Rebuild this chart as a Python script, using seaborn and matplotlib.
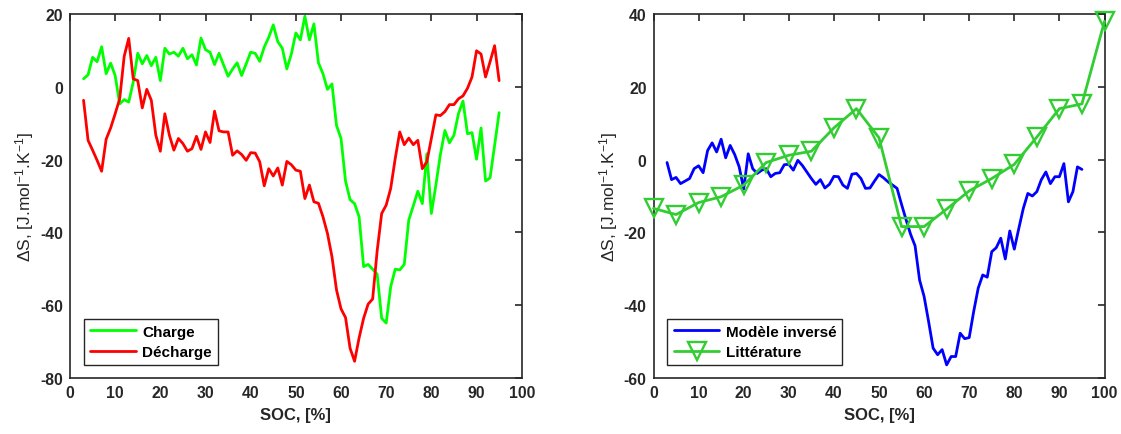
import numpy as np
import pandas as pd
import matplotlib
matplotlib.use("Agg")
import matplotlib.pyplot as plt
import seaborn as sns
from matplotlib.lines import Line2D

# ---------------- data ----------------
soc = list(range(3, 96))

charge = [2.2, 3.3, 8.1, 6.9, 11.0, 3.6, 6.5, 3.1, -4.7, -3.5,
          -4.2, 1.3, 9.2, 6.3, 8.6, 5.8, 8.1, 1.7, 10.6, 9.0,
          9.5, 8.4, 10.6, 7.7, 8.8, 6.0, 13.4, 10.2, 9.5, 6.1,
          9.2, 6.0, 2.9, 4.9, 6.6, 3.1, 6.3, 9.5, 9.2, 7.0,
          10.9, 13.6, 17.0, 12.4, 10.6, 4.9, 9.0, 14.8, 12.9, 19.4,
          12.9, 17.3, 6.6, 3.6, -0.7, 0.8, -10.6, -14.2, -25.9, -31.0,
          -32.1, -35.7, -49.4, -48.8, -50.1, -51.5, -63.6, -64.9, -54.9, -50.1,
          -50.3, -48.8, -36.6, -32.7, -28.7, -32.1, -18.4, -34.8, -27.0, -18.6,
          -12.0, -15.4, -13.3, -7.4, -3.9, -12.9, -12.6, -19.9, -11.3, -25.9,
          -25.0, -16.1, -7.1]

decharge = [-3.7, -14.7, -17.4, -20.2, -23.2, -14.4, -11.3, -7.4, -3.3, 8.4,
            13.3, 2.2, 1.7, -5.8, -0.7, -3.7, -13.3, -17.7, -7.4, -13.3,
            -17.4, -14.2, -15.6, -17.7, -17.0, -13.6, -17.2, -12.4, -15.3, -6.7,
            -12.1, -12.4, -12.4, -18.8, -17.6, -18.6, -20.2, -18.1, -18.2, -20.6,
            -27.2, -22.5, -24.5, -22.3, -27.0, -20.5, -21.4, -22.9, -23.2, -30.7,
            -27.0, -31.6, -32.0, -35.7, -40.3, -46.7, -55.8, -61.0, -63.4, -71.8,
            -75.4, -69.0, -63.6, -59.7, -58.3, -45.1, -34.8, -32.5, -27.9, -19.7,
            -12.4, -15.9, -14.1, -15.9, -14.7, -22.5, -20.6, -14.2, -7.7, -7.9,
            -6.8, -4.9, -4.9, -3.3, -2.5, -0.4, 2.7, 9.9, 9.0, 2.7,
            6.9, 11.3, 1.7]

modele = [-0.8, -5.5, -4.9, -6.6, -5.9, -5.2, -2.5, -1.7, -3.6, 2.5,
          4.6, 2.1, 5.6, 0.5, 3.9, 1.4, -2.0, -8.1, 1.6, -2.5,
          -3.8, -2.9, -2.5, -4.7, -3.8, -3.6, -1.4, -1.3, -2.9, -0.2,
          -1.6, -3.4, -5.2, -6.8, -5.5, -7.8, -6.8, -4.6, -4.7, -7.0,
          -7.9, -4.0, -3.8, -5.2, -7.9, -7.8, -5.9, -4.1, -5.0, -6.1,
          -7.0, -7.9, -12.3, -16.5, -20.5, -23.7, -33.1, -37.6, -44.5, -51.8,
          -53.6, -52.2, -56.4, -54.1, -54.1, -47.7, -49.2, -48.9, -41.7, -35.3,
          -31.7, -32.3, -25.3, -24.2, -21.6, -27.3, -19.6, -24.6, -18.9, -13.4,
          -9.3, -10.0, -8.8, -5.5, -3.4, -6.6, -4.7, -4.7, -1.1, -11.6,
          -8.8, -2.0, -2.7]

soc_lit = list(range(0, 101, 5))
litterature = [-13.4, -15.1, -11.8, -10.2, -7.0, -0.8, 1.2, 2.3, 8.7, 14.0,
               6.0, -18.4, -18.4, -13.6, -8.6, -5.2, -1.3, 6.2, 14.0, 15.3, 38.0]

left_yticks = [20, 0, -20, -40, -60, -80]
right_yticks = [40, 20, 0, -20, -40, -60]
xticks = list(range(0, 101, 10))

# ---------------- style ----------------
sns.set_theme(style="white")
plt.rcParams["font.family"] = ["Liberation Sans", "DejaVu Sans"]
plt.rcParams["axes.unicode_minus"] = False
plt.rcParams["mathtext.fontset"] = "custom"
plt.rcParams["mathtext.rm"] = "Liberation Sans"
plt.rcParams["mathtext.bf"] = "Liberation Sans:bold"
plt.rcParams["mathtext.it"] = "Liberation Sans"
plt.rcParams["mathtext.default"] = "rm"

TXT = "#262626"
FS = 11.3
LW = 2.0

fig = plt.figure(figsize=(11.21, 4.35), dpi=100)
axL = fig.add_axes([70 / 1121, 1 - 379 / 435, 451.7 / 1121, 364 / 435])
axR = fig.add_axes([653.5 / 1121, 1 - 379 / 435, 451 / 1121, 364 / 435])

dfL = pd.DataFrame({"SOC": soc + soc,
                    "dS": charge + decharge,
                    "serie": ["Charge"] * len(soc) + ["Décharge"] * len(soc)})
sns.lineplot(data=dfL, x="SOC", y="dS", hue="serie",
             palette={"Charge": "#00ff00", "Décharge": "#ff0000"},
             linewidth=LW, ax=axL, legend=False)

sns.lineplot(x=soc, y=modele, color="#0000ff", linewidth=LW, ax=axR,
             label="Modèle inversé")
sns.lineplot(x=soc_lit, y=litterature, color="#32cd32", linewidth=LW,
             marker="v", markersize=12.5, markerfacecolor="none",
             markeredgecolor="#32cd32", markeredgewidth=1.7, ax=axR,
             label="Littérature", clip_on=False, zorder=5)

handles_L = [Line2D([], [], color="#00ff00", lw=LW, label="Charge"),
             Line2D([], [], color="#ff0000", lw=LW, label="Décharge")]

ylabel = "ΔS, [J.mol$^{-1}$.K$^{-1}$]"

for ax, yt, ylim in [(axL, left_yticks, (-80, 20)), (axR, right_yticks, (-60, 40))]:
    ax.set_xlim(0, 100)
    ax.set_ylim(*ylim)
    ax.set_xticks(xticks)
    ax.set_yticks(yt)
    ax.set_xticklabels([str(v) for v in xticks])
    ax.set_yticklabels([str(v) for v in yt])
    ax.tick_params(direction="in", length=5, width=1.2, top=True, right=True,
                   colors=TXT, labelsize=FS, pad=5)
    for lab in ax.get_xticklabels() + ax.get_yticklabels():
        lab.set_fontweight("bold")
        lab.set_color(TXT)
    for s in ax.spines.values():
        s.set_visible(True)
        s.set_color(TXT)
        s.set_linewidth(1.2)
    ax.set_xlabel("SOC, [%]", fontsize=12, fontweight="bold", color=TXT, labelpad=5)
    ax.set_ylabel(ylabel, fontsize=12.5, fontweight="normal", color=TXT, labelpad=3)
    ax.grid(False)

leg_kw = dict(loc="lower left", bbox_to_anchor=(0.031, 0.035),
              frameon=True, fancybox=False, framealpha=1, edgecolor=TXT,
              prop={"weight": "bold", "size": 11}, handlelength=3.0,
              borderpad=0.4, labelspacing=0.42, handletextpad=0.4, borderaxespad=0)
legL = axL.legend(handles=handles_L, **leg_kw)
legR = axR.legend(**leg_kw)
for leg in (legL, legR):
    leg.get_frame().set_linewidth(1.0)
    for t in leg.get_texts():
        t.set_color("black")

fig.savefig("out.png", dpi=100)
